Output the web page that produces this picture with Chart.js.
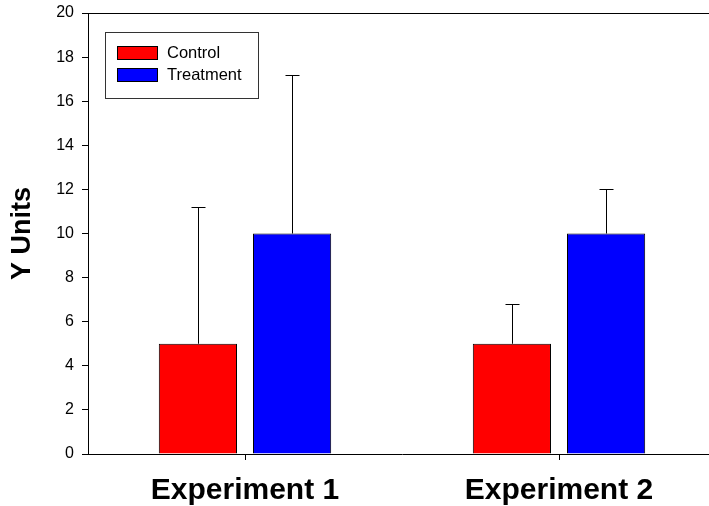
<!DOCTYPE html>
<html>
<head>
<meta charset="utf-8">
<script src="https://cdn.jsdelivr.net/npm/chart.js@4/dist/chart.umd.min.js"></script>
<style>
  html, body { margin: 0; padding: 0; overflow: hidden; background: #fff; }
  #wrap { width: 740px; height: 506px; }
</style>
</head>
<body>
<div id="wrap"><canvas id="chart"></canvas></div>
<script>
// Chart data
const categories = ['Experiment 1', 'Experiment 2'];
const controlValues = [5, 5];
const controlErrors = [6.2, 1.8];
const treatmentValues = [10, 10];
const treatmentErrors = [7.2, 2];
const yTicks = [0, 2, 4, 6, 8, 10, 12, 14, 16, 18, 20];

const FONT = '"Liberation Sans", Arial, sans-serif';

// Upward error bars with a cap, drawn from each dataset's errors array
const errorBarPlugin = {
  id: 'errorBars',
  afterDatasetsDraw(chart) {
    const ctx = chart.ctx;
    const yScale = chart.scales.y;
    ctx.save();
    ctx.strokeStyle = '#000';
    ctx.lineWidth = 1;
    chart.data.datasets.forEach((ds, i) => {
      const meta = chart.getDatasetMeta(i);
      meta.data.forEach((bar, j) => {
        const x = Math.round(bar.x) + 0.5;
        const yTop = Math.round(yScale.getPixelForValue(ds.data[j] + ds.errors[j])) + 0.5;
        const yBase = bar.y;
        ctx.beginPath();
        ctx.moveTo(x, yBase);
        ctx.lineTo(x, yTop);
        ctx.moveTo(x - 7, yTop);
        ctx.lineTo(x + 7, yTop);
        ctx.stroke();
      });
    });
    ctx.restore();
  }
};

// Frame top line and boxed legend inside the plot
const framePlugin = {
  id: 'frame',
  afterDraw(chart) {
    const ctx = chart.ctx;
    const area = chart.chartArea;
    ctx.save();
    ctx.strokeStyle = '#000';
    ctx.lineWidth = 1;
    ctx.beginPath();
    ctx.moveTo(area.left, Math.round(area.top) + 0.5);
    ctx.lineTo(area.right, Math.round(area.top) + 0.5);
    ctx.stroke();

    // legend box
    const lx = area.left + 17, ly = area.top + 19;
    ctx.strokeStyle = '#333';
    ctx.strokeRect(lx + 0.5, ly + 0.5, 153, 66);
    ctx.font = '16.5px ' + FONT;
    ctx.textBaseline = 'middle';
    chart.data.datasets.forEach((ds, i) => {
      const sy = ly + 14 + i * 22;
      ctx.fillStyle = ds.backgroundColor;
      ctx.fillRect(lx + 12, sy, 40, 13);
      ctx.strokeStyle = '#000';
      ctx.strokeRect(lx + 12.5, sy + 0.5, 40, 13);
      ctx.fillStyle = '#000';
      ctx.fillText(ds.label, lx + 62, sy + 7);
    });
    ctx.restore();
  }
};

new Chart(document.getElementById('chart'), {
  type: 'bar',
  data: {
    labels: categories,
    datasets: [
      {
        label: 'Control',
        data: controlValues,
        errors: controlErrors,
        backgroundColor: '#FF0000',
        borderColor: '#000',
        borderWidth: 1,
        categoryPercentage: 0.6,
        barPercentage: 0.83
      },
      {
        label: 'Treatment',
        data: treatmentValues,
        errors: treatmentErrors,
        backgroundColor: '#0000FF',
        borderColor: '#000',
        borderWidth: 1,
        categoryPercentage: 0.6,
        barPercentage: 0.83
      }
    ]
  },
  options: {
    responsive: true,
    maintainAspectRatio: false,
    animation: false,
    layout: { padding: { left: 0, top: 13, right: 24, bottom: 0 } },
    plugins: {
      legend: { display: false },
      tooltip: { enabled: false }
    },
    scales: {
      x: {
        grid: { drawOnChartArea: false, offset: false, color: '#000', tickLength: 6 },
        border: { color: '#000', width: 1 },
        ticks: { color: '#000', padding: 13, font: { family: FONT, size: 30, weight: 'bold' } },
        afterFit: (scale) => {
          scale.height = 52;
          scale.paddingLeft = 0;
          scale.paddingRight = 0;
        }
      },
      y: {
        min: 0,
        max: 20,
        afterBuildTicks: (scale) => { scale.ticks = yTicks.map(v => ({ value: v })); },
        grid: { drawOnChartArea: false, color: '#000', tickLength: 6 },
        border: { color: '#000', width: 1 },
        ticks: { color: '#000', padding: 8, font: { family: FONT, size: 16 } },
        title: {
          display: true,
          text: 'Y Units',
          color: '#000',
          padding: { top: 6, bottom: 0 },
          font: { family: FONT, size: 27, weight: 'bold' }
        },
        afterFit: (scale) => {
          scale.width = 88;
          scale.paddingTop = 0;
          scale.paddingBottom = 0;
        }
      }
    }
  },
  plugins: [errorBarPlugin, framePlugin]
});
</script>
</body>
</html>
